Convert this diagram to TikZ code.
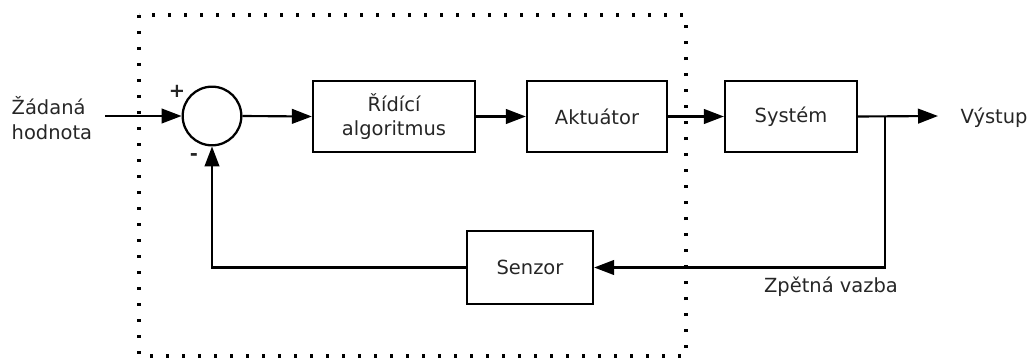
\documentclass[tikz,border=0pt]{standalone}
\usepackage{fontspec}
\setmainfont{DejaVu Sans}
\usetikzlibrary{arrows.meta}
\begin{document}
\begin{tikzpicture}[x=0.75pt,y=-0.75pt,
  every node/.style={font=\fontsize{14.6}{18.5}\selectfont, text=black!85},
  blk/.style={draw=black, line width=1.7pt, inner sep=0pt, align=center},
  sumnode/.style={draw=black, circle, line width=1.7pt, minimum size=44pt, inner sep=0pt},
  wire/.style={line width=1.6pt, draw=black},
  flow/.style={wire, -{Triangle[length=15pt,width=11pt]}},
  frame/.style={line width=2.3pt, dash pattern=on 2.6pt off 9.4pt, draw=black}
]
\useasboundingbox (0,0) rectangle (1028,360);

% controller enclosure
\draw[frame] (139,15) rectangle (686,356);

% blocks
\node[sumnode] (sum) at (212,116) {};
\node[blk, minimum width=121.5pt, minimum height=53.25pt] (ctrl) at (394,116.5) {Řídící\\algoritmus};
\node[blk, minimum width=105pt, minimum height=53.25pt] (act) at (597,116.5) {Aktuátor};
\node[blk, minimum width=99pt, minimum height=53.25pt] (sys) at (791,116.5) {Systém};
\node[blk, minimum width=94.5pt, minimum height=54.75pt] (sen) at (530,267.5) {Senzor};

% signal labels
\node[align=left, anchor=west] (ref) at (7,118) {Žádaná\\hodnota};
\node[anchor=base west] (outlbl) at (956,123) {Výstup};
\node[anchor=base] (fblbl) at (831,292) {Zpětná vazba};
\node (plus) at (177,91) {\textbf{+}};
\node (minus) at (194,157) {\textbf{-}};

% connection points
\coordinate (in) at (105,116);
\coordinate (out) at (938,116);
\coordinate (tap) at (885,116);
\coordinate (tapdown) at (885,267.5);
\coordinate (corner) at (212,267.5);

% forward path
\draw[flow] (in) -- (sum.west);
\draw[flow] (sum.east) -- (ctrl.west);
\draw[flow] (ctrl.east) -- (act.west);
\draw[flow] (act.east) -- (sys.west);
\draw[flow] (sys.east) -- (out);

% feedback path
\draw[flow] (tap) -- (tapdown) -- (sen.east);
\draw[flow] (sen.west) -- (corner) -- (sum.south);
\end{tikzpicture}
\end{document}
